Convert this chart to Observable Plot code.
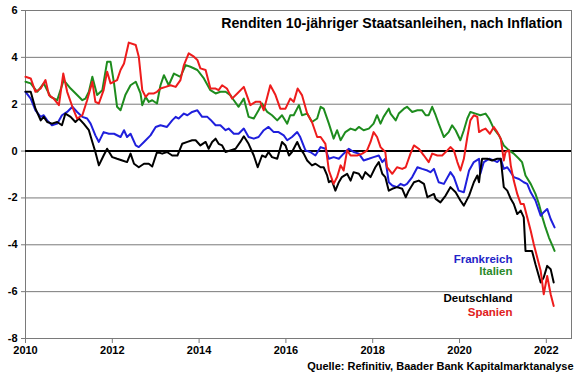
<!DOCTYPE html>
<html>
<head>
<meta charset="utf-8">
<script src="https://cdn.jsdelivr.net/npm/d3@7"></script>
<script src="https://cdn.jsdelivr.net/npm/@observablehq/plot@0.6"></script>
<style>
  html, body { margin: 0; padding: 0; background: #fff; }
  svg { display: block; }
</style>
</head>
<body>
<div id="chart"></div>
<script>
const titleText = "Renditen 10-jähriger Staatsanleihen, nach Inflation";
const sourceText = "Quelle: Refinitiv, Baader Bank Kapitalmarktanalyse";
const seriesNames = ["Italien", "Frankreich", "Deutschland", "Spanien"];
const seriesColors = ["#1e8c1e", "#1f1fdc", "#000000", "#ee1c1c"];
const xTicks = [2010, 2012, 2014, 2016, 2018, 2020, 2022];
const yTicks = [-8, -6, -4, -2, 0, 2, 4, 6];

// [decimal year, real yield %]
const italien = [
[2010.00,2.96],[2010.12,2.89],[2010.27,2.53],[2010.42,2.89],[2010.58,2.31],[2010.73,2.17],[2010.88,3.03],[2011.04,2.67],[2011.19,2.39],[2011.31,2.17],[2011.38,2.24],[2011.46,2.53],[2011.54,3.17],[2011.65,2.39],[2011.77,2.6],[2011.88,3.81],[2011.96,3.81],[2012.04,2.89],[2012.11,1.89],[2012.19,1.74],[2012.30,2.39],[2012.42,2.81],[2012.54,2.96],[2012.65,2.46],[2012.69,1.96],[2012.77,2.31],[2012.84,2.1],[2012.92,2.17],[2013.03,2.03],[2013.11,2.81],[2013.19,3.24],[2013.30,2.81],[2013.42,3.31],[2013.57,3.17],[2013.69,3.67],[2013.80,3.6],[2013.96,3.46],[2014.11,3.1],[2014.26,2.6],
[2014.38,2.46],[2014.49,2.53],[2014.61,2.53],[2014.72,2.39],[2014.80,2.17],[2014.91,1.89],[2015.03,2.24],[2015.14,1.46],[2015.26,1.39],[2015.37,1.74],[2015.45,2.03],[2015.57,1.67],[2015.68,1.53],[2015.80,1.31],[2015.91,1.53],[2016.03,1.17],[2016.10,1.53],[2016.18,1.53],[2016.30,1.96],[2016.37,1.53],[2016.49,1.6],[2016.60,1.24],[2016.72,1.39],[2016.80,1.89],[2016.87,1.81],[2016.99,1.17],[2017.10,0.53],[2017.18,0.89],[2017.26,0.46],[2017.37,0.81],[2017.49,0.96],[2017.60,0.89],[2017.68,1.03],[2017.79,0.89],[2017.91,0.96],[2018.02,1.17],[2018.10,1.53],[2018.18,1.17],[2018.25,1.46],[2018.37,1.81],
[2018.41,1.6],[2018.53,1.31],[2018.60,1.6],[2018.72,1.81],[2018.79,1.89],[2018.91,1.67],[2019.03,1.74],[2019.14,1.74],[2019.22,1.53],[2019.29,1.53],[2019.37,1.89],[2019.45,1.53],[2019.52,1.17],[2019.64,0.6],[2019.75,0.81],[2019.83,1.10],[2019.91,0.89],[2020.02,0.46],[2020.10,0.89],[2020.18,1.39],[2020.25,1.67],[2020.37,1.6],[2020.48,1.53],[2020.60,1.6],[2020.68,1.39],[2020.79,0.96],[2020.91,0.67],[2021.02,0.24],[2021.14,0.03],[2021.25,-0.11],[2021.37,-0.33],[2021.44,-0.47],[2021.52,-1.04],[2021.64,-1.4],[2021.75,-1.83],[2021.83,-2.26],[2021.91,-2.83],[2021.98,-3.26],[2022.06,-3.69],[2022.14,-4.04],[2022.19,-4.26]
];

const spanien = [
[2010.00,3.17],[2010.12,3.10],[2010.23,2.53],[2010.35,2.67],[2010.46,3.03],[2010.54,2.39],[2010.65,2.24],[2010.77,1.96],[2010.87,3.31],[2010.96,2.53],[2011.08,1.89],[2011.19,1.39],[2011.31,1.53],[2011.42,2.17],[2011.54,2.96],[2011.61,2.10],[2011.69,2.03],[2011.80,2.6],[2011.88,3.39],[2011.96,2.89],[2012.04,2.96],[2012.11,3.03],[2012.19,3.46],[2012.27,3.74],[2012.38,4.63],[2012.54,4.53],[2012.61,4.03],[2012.69,2.6],[2012.77,2.31],[2012.84,2.46],[2012.96,2.46],[2013.03,2.53],[2013.11,2.67],[2013.23,2.74],[2013.34,2.81],[2013.46,2.74],[2013.57,3.03],[2013.65,3.67],[2013.76,4.17],[2013.88,4.03],[2013.96,3.89],[2014.03,3.53],[2014.15,3.46],[2014.26,2.67],
[2014.38,2.67],[2014.45,2.6],[2014.53,2.81],[2014.64,2.67],[2014.76,2.24],[2014.88,2.46],[2015.03,2.74],[2015.18,1.96],[2015.30,2.10],[2015.41,2.10],[2015.49,1.74],[2015.57,2.31],[2015.64,2.81],[2015.76,2.39],[2015.87,1.81],[2015.99,1.81],[2016.10,2.24],[2016.18,2.10],[2016.27,2.67],[2016.37,2.39],[2016.49,1.6],[2016.60,1.24],[2016.72,0.6],[2016.80,0.6],[2016.91,0.31],[2016.99,-0.83],[2017.10,-1.4],[2017.18,-1.11],[2017.26,-0.61],[2017.33,-0.83],[2017.41,0.03],[2017.49,-0.19],[2017.64,-0.19],[2017.76,-0.11],[2017.87,0.03],[2017.95,0.39],[2018.02,0.81],[2018.10,0.6],[2018.18,0.17],[2018.29,-0.04],
[2018.33,-0.69],[2018.45,-0.97],[2018.56,-0.69],[2018.68,-0.76],[2018.76,-0.69],[2018.87,-0.11],[2018.95,0.24],[2019.06,0.10],[2019.18,-0.19],[2019.29,-0.47],[2019.37,-0.11],[2019.49,-0.19],[2019.60,-0.19],[2019.72,0.03],[2019.79,0.17],[2019.87,0.03],[2019.95,-0.47],[2020.02,-0.83],[2020.10,-0.33],[2020.18,0.60],[2020.25,1.31],[2020.33,1.53],[2020.41,1.46],[2020.45,0.81],[2020.52,0.89],[2020.60,0.96],[2020.70,0.74],[2020.79,1.03],[2020.87,0.81],[2020.95,0.53],[2021.02,-0.40],[2021.06,-0.04],[2021.14,0.03],[2021.18,-0.61],[2021.25,-1.26],[2021.33,-1.83],[2021.41,-2.26],[2021.48,-2.26],[2021.56,-2.83],[2021.64,-3.40],[2021.71,-3.97],[2021.79,-4.54],[2021.87,-5.11],[2021.94,-6.11],[2022.02,-5.33],[2022.10,-6.11],[2022.17,-6.61]
];

const frankreich = [
[2010.00,2.53],[2010.12,2.24],[2010.23,1.74],[2010.35,1.46],[2010.42,1.53],[2010.50,1.31],[2010.61,1.10],[2010.73,1.17],[2010.84,1.53],[2010.96,1.67],[2011.08,1.89],[2011.19,1.67],[2011.31,1.46],[2011.42,1.39],[2011.50,1.17],[2011.61,0.67],[2011.69,0.39],[2011.80,0.81],[2011.92,0.74],[2012.04,0.74],[2012.19,0.60],[2012.27,0.89],[2012.34,0.60],[2012.42,0.74],[2012.54,0.24],[2012.61,0.17],[2012.73,0.39],[2012.88,0.67],[2013.00,1.03],[2013.11,1.10],[2013.26,1.03],[2013.38,1.31],[2013.46,1.46],[2013.53,1.39],[2013.65,1.60],[2013.73,1.53],[2013.84,1.67],[2013.96,1.74],[2014.07,1.46],[2014.19,1.46],[2014.26,1.34],
[2014.38,1.10],[2014.49,1.10],[2014.61,0.89],[2014.68,0.96],[2014.80,0.74],[2014.91,0.74],[2015.03,0.96],[2015.14,0.60],[2015.26,0.53],[2015.37,0.60],[2015.49,0.89],[2015.60,1.03],[2015.72,0.81],[2015.83,0.81],[2015.95,0.67],[2016.03,0.46],[2016.14,0.60],[2016.26,0.81],[2016.33,0.60],[2016.45,0.03],[2016.56,-0.04],[2016.68,-0.19],[2016.80,0.17],[2016.91,0.10],[2016.99,-0.33],[2017.10,-0.26],[2017.22,-0.33],[2017.33,-0.11],[2017.45,0.10],[2017.56,-0.04],[2017.68,-0.11],[2017.79,-0.40],[2017.91,-0.33],[2018.02,-0.26],[2018.14,-0.19],[2018.22,-0.47],[2018.29,-0.33],[2018.37,-1.33],
[2018.45,-1.47],[2018.56,-1.54],[2018.64,-1.40],[2018.72,-1.47],[2018.79,-1.40],[2018.91,-1.11],[2019.03,-0.69],[2019.14,-0.76],[2019.26,-0.83],[2019.33,-0.90],[2019.41,-0.76],[2019.52,-1.33],[2019.64,-1.40],[2019.79,-0.90],[2019.87,-1.11],[2019.98,-1.69],[2020.10,-1.76],[2020.22,-0.83],[2020.33,-0.47],[2020.45,-0.33],[2020.48,-0.97],[2020.56,-0.47],[2020.68,-0.33],[2020.79,-0.40],[2020.87,-0.47],[2020.95,-0.33],[2021.02,-0.76],[2021.10,-0.69],[2021.18,-0.90],[2021.25,-1.11],[2021.37,-1.19],[2021.48,-1.33],[2021.56,-1.40],[2021.64,-1.76],[2021.75,-2.11],[2021.87,-2.76],[2021.94,-2.61],[2022.02,-2.47],[2022.10,-2.90],[2022.19,-3.26]
];

const deutschland = [
[2010.00,2.53],[2010.12,2.53],[2010.23,1.81],[2010.35,1.31],[2010.42,1.46],[2010.50,1.24],[2010.61,1.17],[2010.73,1.24],[2010.84,1.10],[2010.92,1.60],[2011.04,1.46],[2011.15,1.24],[2011.23,1.39],[2011.34,1.17],[2011.46,0.89],[2011.54,0.39],[2011.61,-0.04],[2011.69,-0.61],[2011.80,-0.19],[2011.88,0.10],[2012.00,-0.26],[2012.11,-0.33],[2012.23,-0.40],[2012.34,-0.47],[2012.42,-0.11],[2012.50,-0.54],[2012.61,-0.69],[2012.73,-0.54],[2012.84,-0.54],[2012.92,-0.66],[2013.03,-0.04],[2013.15,-0.11],[2013.26,-0.04],[2013.38,-0.19],[2013.50,-0.19],[2013.61,0.31],[2013.73,0.39],[2013.84,0.46],[2013.92,0.46],[2014.03,0.24],[2014.15,0.39],[2014.22,0.10],
[2014.30,0.39],[2014.38,0.53],[2014.45,0.31],[2014.53,0.24],[2014.61,-0.04],[2014.72,0.03],[2014.84,0.10],[2014.95,0.39],[2015.03,0.63],[2015.14,0.31],[2015.26,-0.19],[2015.35,-0.69],[2015.45,-0.19],[2015.53,-0.26],[2015.60,-0.04],[2015.68,-0.26],[2015.80,-0.33],[2015.91,0.39],[2015.99,0.24],[2016.07,-0.19],[2016.14,-0.04],[2016.26,0.39],[2016.33,0.10],[2016.41,-0.11],[2016.49,-0.40],[2016.60,-0.61],[2016.68,-0.54],[2016.80,-0.69],[2016.87,-0.69],[2016.95,-1.04],[2016.99,-1.33],[2017.06,-1.26],[2017.14,-1.69],[2017.22,-1.33],[2017.29,-1.11],[2017.41,-0.97],[2017.49,-1.26],[2017.56,-0.90],[2017.68,-0.97],[2017.76,-1.19],[2017.83,-0.90],[2017.95,-1.11],[2018.06,-0.69],[2018.14,-0.47],[2018.22,-0.97],[2018.29,-1.11],[2018.37,-1.69],
[2018.45,-1.61],[2018.56,-1.54],[2018.68,-1.61],[2018.76,-1.97],[2018.83,-1.69],[2018.95,-1.33],[2019.06,-1.26],[2019.18,-1.40],[2019.26,-1.97],[2019.33,-1.90],[2019.41,-1.83],[2019.45,-2.04],[2019.56,-2.19],[2019.68,-1.90],[2019.79,-1.54],[2019.91,-1.76],[2020.02,-2.11],[2020.10,-2.33],[2020.22,-1.90],[2020.33,-1.33],[2020.41,-1.04],[2020.45,-1.33],[2020.48,-0.83],[2020.52,-0.33],[2020.64,-0.33],[2020.75,-0.40],[2020.87,-0.33],[2020.95,-0.33],[2021.02,-1.54],[2021.10,-1.69],[2021.18,-2.04],[2021.25,-2.26],[2021.33,-2.69],[2021.41,-2.54],[2021.48,-2.83],[2021.52,-4.26],[2021.67,-4.26],[2021.75,-4.83],[2021.87,-5.61],[2021.94,-5.40],[2022.02,-4.90],[2022.10,-5.04],[2022.17,-5.61]
];

const seriesData = [italien, frankreich, deutschland, spanien];
const table = seriesData.flatMap((arr, i) => arr.map(([t, v]) => ({country: seriesNames[i], t, v})));

const font = "'Liberation Sans', Arial, sans-serif";
const txt = {fontFamily: font, fontWeight: "bold"};

const chart = Plot.plot({
  width: 580,
  height: 375,
  marginLeft: 25,
  marginRight: 9,
  marginTop: 10,
  marginBottom: 37,
  style: {fontFamily: font, fontSize: "11px", fontWeight: "bold", color: "#000", background: "#fff", overflow: "visible"},
  x: {type: "linear", domain: [2010, 2022.58]},
  y: {domain: [-8, 6]},
  color: {domain: seriesNames, range: seriesColors},
  marks: [
    Plot.ruleY(yTicks.filter(d => d !== 0 && d !== -8), {stroke: "#7a7a7a", strokeWidth: 1}),
    Plot.frame({stroke: "#7a7a7a", strokeWidth: 1}),
    Plot.axisY({ticks: yTicks, tickSize: 4, tickPadding: 4, tickFormat: d => String(d), label: null, stroke: "#7a7a7a"}),
    Plot.axisX({ticks: xTicks, tickSize: 5, tickPadding: 3, tickFormat: d => String(d), label: null, stroke: "#7a7a7a"}),
    Plot.ruleY([0], {stroke: "#000", strokeWidth: 2}),
    Plot.line(table, {x: "t", y: "v", z: "country", stroke: "country", strokeWidth: 2, strokeLinejoin: "round"}),
    Plot.text([titleText], {frameAnchor: "top-right", dx: -9, dy: 7, lineAnchor: "top", textAnchor: "end", fontSize: 14.2, ...txt, fill: "#000"}),
    Plot.text(["Frankreich"], {x: 2021.22, y: -4.6, textAnchor: "end", fontSize: 11.5, ...txt, fill: "#2424c8"}),
    Plot.text(["Italien"], {x: 2021.22, y: -5.13, textAnchor: "end", fontSize: 11.5, ...txt, fill: "#2a8a2a"}),
    Plot.text(["Deutschland"], {x: 2021.22, y: -6.3, textAnchor: "end", fontSize: 11.5, ...txt, fill: "#000"}),
    Plot.text(["Spanien"], {x: 2021.22, y: -6.88, textAnchor: "end", fontSize: 11.5, ...txt, fill: "#e02020"}),
    Plot.text([sourceText], {frameAnchor: "bottom-right", dx: 2, dy: 24, lineAnchor: "top", textAnchor: "end", fontSize: 11, ...txt, fill: "#000"})
  ]
});
document.getElementById("chart").appendChild(chart);
</script>
</body>
</html>
